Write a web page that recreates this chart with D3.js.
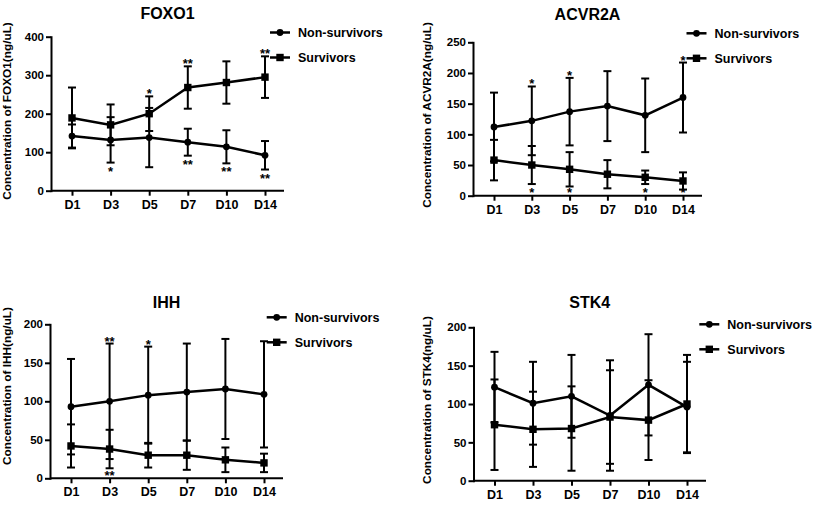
<!DOCTYPE html>
<html>
<head>
<meta charset="utf-8">
<script src="https://cdn.jsdelivr.net/npm/d3@7"></script>
<style>
  body { margin: 0; background: #fff; }
  svg { display: block; }
  text { font-family: "Liberation Sans", Arial, sans-serif; font-weight: bold; fill: #000; }
</style>
</head>
<body>
<svg id="canvas" width="815" height="508"></svg>
<script>
(function() {

// categories
var days = ["D1", "D3", "D5", "D7", "D10", "D14"];
var legendNames = ["Non-survivors", "Survivors"];

// FOXO1
var foxoNon = [142, 132, 138, 126, 114, 92];
var foxoNonErr = [30, 59, 77, 35, 43, 37];
var foxoSurv = [189, 171, 200, 268, 281, 295];
var foxoSurvErr = [79, 53, 45, 55, 55, 54];
var foxoStarsUp = ["", "", "*", "**", "", "**"];     // above survivors
var foxoStarsDown = ["", "*", "", "**", "**", "**"]; // below non-survivors
var foxoTicks = [0, 100, 200, 300, 400];

// ACVR2A
var acvrNon = [112, 122, 137, 146, 131, 160];
var acvrNonErr = [56, 56, 55, 57, 60, 57];
var acvrSurv = [58, 50, 43, 35, 30, 24];
var acvrSurvErr = [33, 31, 28, 23, 11, 14];
var acvrStarsUp = ["", "*", "*", "", "", "*"];
var acvrStarsDown = ["", "*", "*", "", "*", "*"];
var acvrTicks = [0, 50, 100, 150, 200, 250];

// IHH
var ihhNon = [93, 100, 108, 112, 116, 109];
var ihhNonErr = [62, 75, 63, 63, 65, 69];
var ihhSurv = [42, 38, 30, 30, 24, 20];
var ihhSurvErr = [28, 25, 16, 19, 16, 12];
var ihhStarsUp = ["", "**", "*", "", "", ""];
var ihhStarsDown = ["", "**", "", "", "", ""];
var ihhTicks = [0, 50, 100, 150, 200];

// STK4
var stkNon = [122, 101, 110, 85, 125, 96];
var stkNonErr = [46, 54, 54, 72, 66, 59];
var stkSurv = [73, 67, 68, 83, 79, 100];
var stkSurvErr = [59, 49, 55, 61, 52, 64];
var stkTicks = [0, 50, 100, 150, 200];

var panels = [
  { title: "FOXO1", label: "Concentration of FOXO1(ng/uL)", ticks: foxoTicks,
    non: foxoNon, nonErr: foxoNonErr, surv: foxoSurv, survErr: foxoSurvErr,
    up: foxoStarsUp, upOn: "surv", down: foxoStarsDown, downOn: "non",
    box: { x0: 51, x1: 284, yb: 190.7, yt: 36.7 }, titleY: 19, labelX: 10.5, labelY: 111, leg: [270, 32.5] },
  { title: "ACVR2A", label: "Concentration of ACVR2A(ng/uL)", ticks: acvrTicks,
    non: acvrNon, nonErr: acvrNonErr, surv: acvrSurv, survErr: acvrSurvErr,
    up: acvrStarsUp, upOn: "non", down: acvrStarsDown, downOn: "surv",
    box: { x0: 473, x1: 702, yb: 195.7, yt: 42.3 }, titleY: 20, labelX: 430.5, labelY: 115, leg: [686.5, 33.3] },
  { title: "IHH", label: "Concentration of IHH(ng/uL)", ticks: ihhTicks,
    non: ihhNon, nonErr: ihhNonErr, surv: ihhSurv, survErr: ihhSurvErr,
    up: ihhStarsUp, upOn: "non", down: ihhStarsDown, downOn: "surv",
    box: { x0: 50, x1: 283, yb: 478.3, yt: 324.3 }, titleY: 307.5, labelX: 10.5, labelY: 386, leg: [266.7, 317.3] },
  { title: "STK4", label: "Concentration of STK4(ng/uL)", ticks: stkTicks,
    non: stkNon, nonErr: stkNonErr, surv: stkSurv, survErr: stkSurvErr,
    up: null, down: null,
    box: { x0: 473.5, x1: 706, yb: 480.7, yt: 327.3 }, titleY: 308, labelX: 430.5, labelY: 400, leg: [699.3, 324.3] }
];

var svg = d3.select("#canvas");

function marker(sel, shape, cx, cy) {
  if (shape === "circle") {
    sel.append("circle").attr("cx", cx).attr("cy", cy).attr("r", 3.4).attr("fill", "#000");
  } else {
    sel.append("rect").attr("x", cx - 3.7).attr("y", cy - 3.7)
      .attr("width", 7.4).attr("height", 7.4).attr("fill", "#000");
  }
}

panels.forEach(function(p) {
  var b = p.box;
  var g = svg.append("g");
  var x = d3.scalePoint().domain(days).range([b.x0 + 21, b.x1 - 19]);
  var y = d3.scaleLinear().domain([0, d3.max(p.ticks)]).range([b.yb, b.yt]);

  // title
  g.append("text").attr("x", (b.x0 + b.x1) / 2).attr("y", p.titleY)
    .attr("text-anchor", "middle").style("font-size", "16px").text(p.title);

  // y label
  g.append("text").attr("transform", "translate(" + p.labelX + "," + p.labelY + ") rotate(-90)")
    .attr("text-anchor", "middle").style("font-size", "11.8px").text(p.label);

  // y axis
  var ya = g.append("g").attr("transform", "translate(" + b.x0 + ",0)")
    .call(d3.axisLeft(y).tickValues(p.ticks).tickSize(5).tickSizeOuter(0).tickPadding(2));
  ya.select(".domain").attr("stroke-width", 2).attr("stroke-linecap", "square");
  ya.selectAll(".tick line").attr("stroke-width", 2);
  ya.selectAll(".tick text").style("font-size", "11.5px").style("font-family", null);

  // x axis
  var xa = g.append("g").attr("transform", "translate(0," + b.yb + ")")
    .call(d3.axisBottom(x).tickSize(5).tickSizeOuter(0).tickPadding(4));
  xa.select(".domain").remove();
  xa.append("line").attr("x1", b.x0).attr("x2", b.x1).attr("stroke", "#000").attr("stroke-width", 2);
  xa.selectAll(".tick line").attr("stroke-width", 2);
  xa.selectAll(".tick text").style("font-size", "12.5px").style("font-family", null);

  var series = [
    { vals: p.non, errs: p.nonErr, shape: "circle", key: "non" },
    { vals: p.surv, errs: p.survErr, shape: "square", key: "surv" }
  ];

  series.forEach(function(s) {
    var sg = g.append("g");
    s.vals.forEach(function(v, i) {
      var cx = x(days[i]), top = y(v + s.errs[i]), bot = y(v - s.errs[i]);
      sg.append("line").attr("x1", cx).attr("x2", cx).attr("y1", top).attr("y2", bot)
        .attr("stroke", "#000").attr("stroke-width", 2);
      [top, bot].forEach(function(cy) {
        sg.append("line").attr("x1", cx - 4).attr("x2", cx + 4).attr("y1", cy).attr("y2", cy)
          .attr("stroke", "#000").attr("stroke-width", 2);
      });
    });
    sg.append("path").datum(s.vals)
      .attr("d", d3.line().x(function(d, i) { return x(days[i]); }).y(function(d) { return y(d); }))
      .attr("fill", "none").attr("stroke", "#000").attr("stroke-width", 2.5);
    s.vals.forEach(function(v, i) { marker(sg, s.shape, x(days[i]), y(v)); });
  });

  // significance stars
  var byKey = { non: series[0], surv: series[1] };
  if (p.up) {
    var su = byKey[p.upOn];
    p.up.forEach(function(st, i) {
      if (!st) return;
      g.append("text").attr("x", x(days[i])).attr("y", y(su.vals[i] + su.errs[i]) + 2)
        .attr("text-anchor", "middle").style("font-size", "13px").text(st);
    });
  }
  if (p.down) {
    var sd = byKey[p.downOn];
    p.down.forEach(function(st, i) {
      if (!st) return;
      // keep stars just above the x axis when the whisker ends close to it
      var by = Math.min(y(sd.vals[i] - sd.errs[i]) + 13, b.yb + 1.5);
      g.append("text").attr("x", x(days[i])).attr("y", by)
        .attr("text-anchor", "middle").style("font-size", "13px").text(st);
    });
  }

  // legend
  legendNames.forEach(function(name, k) {
    var lx = p.leg[0], ly = p.leg[1] + k * 25;
    g.append("line").attr("x1", lx).attr("x2", lx + 20).attr("y1", ly).attr("y2", ly)
      .attr("stroke", "#000").attr("stroke-width", 2.5);
    marker(g, series[k].shape, lx + 10, ly);
    g.append("text").attr("x", lx + 28).attr("y", ly).attr("dy", "0.36em")
      .style("font-size", "12.5px").text(name);
  });
});

})();
</script>
</body>
</html>
